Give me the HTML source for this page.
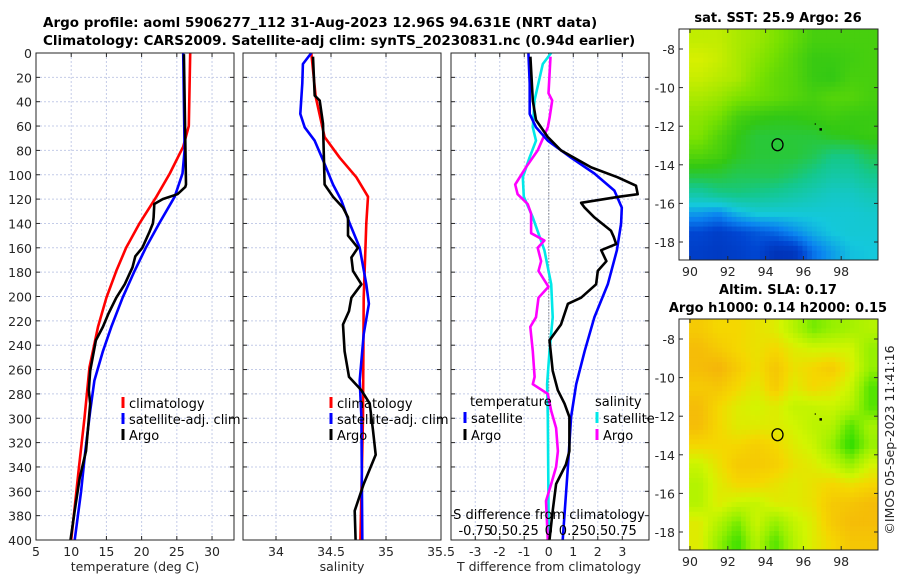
<!DOCTYPE html>
<html><head><meta charset="utf-8"><style>
body{margin:0;background:#fff;}
svg{display:block;font-family:"DejaVu Sans","Liberation Sans",sans-serif;}
.tk{font-size:12.5px;fill:#262626;}
.tt{font-size:13px;font-weight:bold;fill:#000;}
.tm{font-size:13.5px;font-weight:bold;fill:#000;}
.lg{font-size:13px;fill:#000;}
</style></head><body>
<svg id="fig" width="900" height="580" viewBox="0 0 900 580">
<text class="tm" x="43" y="27">Argo profile: aoml 5906277_112 31-Aug-2023 12.96S 94.631E (NRT data)</text>
<text class="tm" x="43" y="45">Climatology: CARS2009. Satellite-adj clim: synTS_20230831.nc (0.94d earlier)</text>
<g id="g1"></g>
<g id="g2"></g>
<g id="g3"></g>
<g id="m1"></g>
<g id="m2"></g>
<text class="tt" x="778" y="22" text-anchor="middle">sat. SST: 25.9 Argo: 26</text>
<text class="tt" x="778" y="294" text-anchor="middle">Altim. SLA: 0.17</text>
<text class="tt" x="778" y="312" text-anchor="middle">Argo h1000: 0.14 h2000: 0.15</text>
<text class="tk" transform="translate(894,440) rotate(-90)" text-anchor="middle">©IMOS 05-Sep-2023 11:41:16</text>
</svg>
<script>
// ---- temperature panel data ----
const tClimDepth=[0,60,77,99,118,140,160,179,201,225,258,299,340,400];
const tClimVal=[26.9,26.7,25.9,24,22.1,19.7,17.8,16.4,15,13.8,12.6,11.9,11.1,10];
const tSatDepth=[0,80,99,118,140,160,179,201,225,245,269,294,327,360,400];
const tSatVal=[25.9,26.1,25.8,24.7,22.5,20.6,19,17.3,15.7,14.5,13.3,12.7,12,11.4,10.5];
const tArgoDepth=[1,108,110,116,120,124,135,140,147,160,167,176,190,201,214,225,236,261,277,288,327,349,376,400];
const tArgoVal=[26,26.3,26.2,25.1,23,21.8,21.7,21.6,21.1,20.1,19.1,18.7,17.6,16.4,15.3,14.5,13.5,12.7,12.5,12.7,12.1,11.2,10.5,9.9];
// ---- salinity panel data ----
const sClimDepth=[0,36,69,86,102,118,140,201,299,400];
const sClimVal=[34.321,34.361,34.442,34.579,34.730,34.836,34.821,34.797,34.791,34.767];
const sSatDepth=[0,9,25,50,61,72,88,108,121,140,160,190,206,231,269,299,400];
const sSatVal=[34.321,34.245,34.239,34.221,34.261,34.352,34.427,34.518,34.594,34.670,34.761,34.821,34.845,34.797,34.761,34.776,34.785];
const sArgoDepth=[3,35,39,58,108,118,127,135,150,160,168,179,190,201,212,223,245,266,277,288,310,330,354,376,400];
const sArgoVal=[34.336,34.352,34.397,34.427,34.442,34.518,34.609,34.655,34.655,34.745,34.685,34.700,34.776,34.685,34.664,34.609,34.624,34.664,34.776,34.852,34.882,34.906,34.797,34.715,34.724];
// ---- difference panel data ----
const dTSatDepth=[0,25,50,61,72,86,99,113,127,140,162,190,217,245,272,299,340,400];
const dTSatVal=[-0.83,-0.78,-0.78,-0.52,-0.04,0.91,1.86,2.68,2.98,2.95,2.78,2.41,1.86,1.46,1.12,0.91,0.78,0.57];
const dTArgoDepth=[3,39,55,69,80,94,102,109,116,118,123,127,135,146,151,157,162,171,179,190,201,206,223,236,261,277,288,299,327,338,354,376,400];
const dTArgoVal=[-0.75,-0.65,-0.52,-0.04,0.5,1.73,2.8,3.56,3.63,2.88,1.32,1.46,1.86,2.54,2.65,2.75,2.14,2.35,2.0,1.93,1.32,0.78,0.5,0.03,0.16,0.37,0.64,0.84,0.84,0.7,0.3,0.16,0.03];
const dSSatDepth=[0,9,39,61,72,86,102,118,135,162,190,217,245,272,299,400];
const dSSatVal=[0.024,-0.061,-0.146,-0.163,-0.13,-0.197,-0.265,-0.255,-0.163,-0.045,0.025,0.04,0.007,-0.017,-0.01,0];
const dSArgoDepth=[3,33,39,53,61,80,94,108,116,124,132,148,154,160,171,179,192,201,217,225,245,266,272,280,294,308,327,340,354,368,400];
const dSArgoVal=[0.018,-0.003,0.035,0.008,-0.01,-0.113,-0.233,-0.343,-0.318,-0.215,-0.18,-0.18,-0.045,-0.113,-0.078,-0.105,-0.003,-0.105,-0.13,-0.188,-0.163,-0.145,-0.163,-0.01,0.025,0.075,0.093,0.075,0.025,-0.028,-0.01];
// ---- ticks ----
const depthTicks=[0,20,40,60,80,100,120,140,160,180,200,220,240,260,280,300,320,340,360,380,400];
const tTicks=[5,10,15,20,25,30];
const sTicks=[34,34.5,35,35.5];
const dTicks=[-3,-2,-1,0,1,2,3];
const dTickLabels=["-3","-2","-1","0","1","2","3"];
const dSTickLabels=["-0.75","0.5","0.25","0","0.25","0.5","0.75"];
// ---- map data (colour index per 1 degree cell, rows lat -7..-18, cols lon 90..99) ----
const sstGrid=[
[0.75,0.75,0.72,0.70,0.66,0.62,0.58,0.58,0.58,0.58],
[0.78,0.76,0.72,0.68,0.64,0.60,0.56,0.56,0.57,0.58],
[0.76,0.74,0.72,0.66,0.62,0.60,0.56,0.55,0.58,0.58],
[0.72,0.70,0.66,0.64,0.62,0.60,0.58,0.60,0.60,0.58],
[0.68,0.65,0.58,0.56,0.55,0.55,0.56,0.57,0.56,0.56],
[0.66,0.60,0.55,0.52,0.52,0.52,0.52,0.54,0.55,0.56],
[0.60,0.58,0.54,0.52,0.52,0.52,0.50,0.46,0.46,0.50],
[0.52,0.52,0.50,0.50,0.50,0.48,0.45,0.42,0.42,0.45],
[0.42,0.45,0.46,0.45,0.44,0.42,0.40,0.38,0.38,0.40],
[0.30,0.28,0.33,0.36,0.36,0.36,0.36,0.36,0.36,0.37],
[0.20,0.18,0.20,0.22,0.24,0.28,0.32,0.35,0.36,0.36],
[0.18,0.17,0.18,0.20,0.15,0.16,0.25,0.30,0.34,0.35]];
const slaGrid=[
[0.85,0.82,0.82,0.80,0.78,0.72,0.65,0.68,0.70,0.72],
[0.88,0.85,0.82,0.80,0.82,0.78,0.76,0.76,0.76,0.68],
[0.88,0.90,0.85,0.80,0.86,0.80,0.82,0.85,0.78,0.68],
[0.85,0.86,0.82,0.78,0.85,0.78,0.82,0.80,0.75,0.62],
[0.88,0.82,0.78,0.76,0.78,0.74,0.74,0.75,0.72,0.62],
[0.88,0.82,0.78,0.78,0.78,0.76,0.73,0.72,0.62,0.70],
[0.82,0.82,0.82,0.84,0.82,0.78,0.75,0.68,0.58,0.68],
[0.75,0.80,0.85,0.85,0.84,0.80,0.78,0.74,0.68,0.76],
[0.72,0.78,0.82,0.82,0.80,0.78,0.80,0.82,0.80,0.82],
[0.72,0.78,0.75,0.74,0.78,0.78,0.80,0.85,0.86,0.88],
[0.78,0.72,0.65,0.75,0.68,0.74,0.78,0.85,0.88,0.88],
[0.78,0.68,0.60,0.72,0.62,0.72,0.78,0.82,0.86,0.86]];
const mapLatTicks=[-8,-10,-12,-14,-16,-18];
const mapLonTicks=[90,92,94,96,98];
const argoLon=94.63, argoLat=-12.96;

const NS="http://www.w3.org/2000/svg";
function mk(parent,tag,attrs){const e=document.createElementNS(NS,tag);for(const k in attrs)e.setAttribute(k,attrs[k]);parent.appendChild(e);return e;}
const PY0=53,PH=487,PW=198;
const yD=d=>PY0+d*PH/400;

function panel(g,x0,xmin,xmax,ticks,labels,showDepth,nameP){
  const xf=v=>x0+(v-xmin)/(xmax-xmin)*PW;
  const gr=mk(g,'g',{});
  
  
  depthTicks.forEach(d=>{ if(d>0&&d<400) mk(gr,'line',{x1:x0,x2:x0+PW,y1:yD(d),y2:yD(d),stroke:'#c4cce8','stroke-width':1,'stroke-dasharray':'2,2'});});
  ticks.forEach((t,i)=>{const x=xf(t); if(x>x0+1&&x<x0+PW-1) mk(gr,'line',{x1:x,x2:x,y1:PY0,y2:PY0+PH,stroke:'#c4cce8','stroke-width':1,'stroke-dasharray':'2,2'});
    const tl=mk(g,'text',{x:x,y:PY0+PH+16,'text-anchor':'middle',class:'tk'});tl.textContent=labels[i];
    
    
    mk(g,'line',{x1:x,x2:x,y1:PY0+PH,y2:PY0+PH-4,stroke:'#262626'});
    mk(g,'line',{x1:x,x2:x,y1:PY0,y2:PY0+4,stroke:'#262626'});});
  depthTicks.forEach(d=>{mk(g,'line',{x1:x0,x2:x0+4,y1:yD(d),y2:yD(d),stroke:'#262626'});mk(g,'line',{x1:x0+PW,x2:x0+PW-4,y1:yD(d),y2:yD(d),stroke:'#262626'});
    if(showDepth){const t=mk(g,'text',{x:x0-4,y:yD(d)+5,'text-anchor':'end',class:'tk'});t.textContent=d;
    
    }});
  return xf;
}
function line(g,depths,vals,xf,color,name){
  const p=depths.map((d,i)=>xf(vals[i]).toFixed(1)+','+yD(d).toFixed(1)).join(' ');
  const e=mk(g,'polyline',{points:p,fill:'none',stroke:color,'stroke-width':2.6,'stroke-linejoin':'round'});
  
  
}
function frame(g,x0){mk(g,'rect',{x:x0,y:PY0,width:PW,height:PH,fill:'none',stroke:'#262626','stroke-width':1});}
function legItem(g,x,y,color,label,name){
  mk(g,'rect',{x:x-1.5,y:y-11,width:3,height:11,fill:color});
  const t=mk(g,'text',{x:x+6,y:y,class:'lg'});t.textContent=label;
  
  
}
function txt(g,x,y,s,cls,anchor,name){const t=mk(g,'text',{x:x,y:y,class:cls,'text-anchor':anchor||'start'});t.textContent=s;
  
  return t;}

// Panel 1
const g1=document.getElementById('g1');
const xT=panel(g1,36,5,33.12,tTicks,tTicks.map(String),true,'temperature');
line(g1,tClimDepth,tClimVal,xT,'#ff0000','temp-climatology-line');
line(g1,tSatDepth,tSatVal,xT,'#0000ff','temp-satellite-line');
line(g1,tArgoDepth,tArgoVal,xT,'#000000','temp-argo-line');
frame(g1,36);
legItem(g1,123,408,'#ff0000','climatology','legend-climatology');
legItem(g1,123,424,'#0000ff','satellite-adj. clim','legend-satellite');
legItem(g1,123,440,'#000000','Argo','legend-argo');
txt(g1,135,571,'temperature (deg C)','tk','middle','temperature-axis-title');

// Panel 2
const g2=document.getElementById('g2');
const xS=panel(g2,243,33.7,35.5,sTicks,['34','34.5','35','35.5'],false,'salinity');
line(g2,sClimDepth,sClimVal,xS,'#ff0000','sal-climatology-line');
line(g2,sSatDepth,sSatVal,xS,'#0000ff','sal-satellite-line');
line(g2,sArgoDepth,sArgoVal,xS,'#000000','sal-argo-line');
frame(g2,243);
legItem(g2,331,408,'#ff0000','climatology','legend-climatology-sal');
legItem(g2,331,424,'#0000ff','satellite-adj. clim','legend-satellite-sal');
legItem(g2,331,440,'#000000','Argo','legend-argo-sal');
txt(g2,342,571,'salinity','tk','middle','salinity-axis-title');

// Panel 3
const g3=document.getElementById('g3');
const xD=panel(g3,451,-3.99,4.09,dTicks,dTickLabels,false,'difference');
const xDS=v=>xD(v*4);
mk(g3,'line',{x1:xD(0),x2:xD(0),y1:yD(80),y2:yD(400),stroke:'#555','stroke-width':1,'stroke-dasharray':'1,2'});
line(g3,dSSatDepth,dSSatVal,xDS,'#00e8e8','sal-diff-satellite-line');
line(g3,dSArgoDepth,dSArgoVal,xDS,'#ff00ff','sal-diff-argo-line');
line(g3,dTSatDepth,dTSatVal,xD,'#0000ff','temp-diff-satellite-line');
line(g3,dTArgoDepth,dTArgoVal,xD,'#000000','temp-diff-argo-line');
frame(g3,451);
txt(g3,470,406,'temperature','lg','start','legend-temperature-heading');
txt(g3,595,406,'salinity','lg','start','legend-salinity-heading');
legItem(g3,465,423,'#0000ff','satellite','legend-temp-satellite');
legItem(g3,465,440,'#000000','Argo','legend-temp-argo');
legItem(g3,597,423,'#00e8e8','satellite','legend-sal-satellite');
legItem(g3,597,440,'#ff00ff','Argo','legend-sal-argo');
txt(g3,549,519,'S difference from climatology','lg','middle','s-axis-title');
dSTickLabels.forEach((l,i)=>{txt(g3,xD(dTicks[i]),535,l,'lg','middle','s-axis-tick-label');});
txt(g3,549,571,'T difference from climatology','tk','middle','t-axis-title');

// Maps
function lerp(a,b,t){return a+(b-a)*t;}
function pal(stops,v){
  if(v<=stops[0][0])return 'rgb('+stops[0][1].join(',')+')';
  for(let i=1;i<stops.length;i++){if(v<=stops[i][0]){const t=(v-stops[i-1][0])/(stops[i][0]-stops[i-1][0]);const a=stops[i-1][1],b=stops[i][1];return 'rgb('+[0,1,2].map(k=>Math.round(lerp(a[k],b[k],t))).join(',')+')';}}
  return 'rgb('+stops[stops.length-1][1].join(',')+')';
}
const sstStops=[[0.12,[0,40,170]],[0.2,[0,70,210]],[0.27,[10,130,240]],[0.35,[20,200,220]],[0.45,[20,200,140]],[0.55,[50,200,20]],[0.65,[120,225,0]],[0.78,[215,240,0]]];
const slaStops=[[0.58,[40,220,0]],[0.68,[150,240,0]],[0.76,[210,245,0]],[0.82,[245,215,0]],[0.9,[245,180,10]]];
function bil(grid,lon,lat){
  let c=Math.min(Math.max(lon-90.5,0),9),r=Math.min(Math.max(-7.5-lat,0),11);
  const c0=Math.min(Math.floor(c),8),r0=Math.min(Math.floor(r),10),tc=c-c0,tr=r-r0;
  return lerp(lerp(grid[r0][c0],grid[r0][c0+1],tc),lerp(grid[r0+1][c0],grid[r0+1][c0+1],tc),tr);
}
function drawMap(g,grid,stops,yoff,nm){
  const lx=lon=>690+(lon-90)*18.9, ly=lat=>yoff+49+(-8-lat)*19.3;
  const step=0.25;
  for(let lat=-6.95;lat>-18.9;lat-=step){for(let lon=89.95;lon<99.9;lon+=step){
    const la2=Math.max(lat-step,-18.9),lo2=Math.min(lon+step,99.9);
    const v=bil(grid,lon+step/2,lat-step/2);
    mk(g,'rect',{x:lx(lon).toFixed(2),y:ly(lat).toFixed(2),width:(lx(lo2)-lx(lon)+0.4).toFixed(2),height:(ly(la2)-ly(lat)+0.4).toFixed(2),fill:pal(stops,v)});
  }}
  const bx=679,by=yoff+29,bw=199,bh=231;
  mk(g,'rect',{x:bx,y:by,width:bw,height:bh,fill:'none',stroke:'#262626'});
  mapLatTicks.forEach(t=>{const y=ly(t);mk(g,'line',{x1:bx,x2:bx+4,y1:y,y2:y,stroke:'#262626'});mk(g,'line',{x1:bx+bw,x2:bx+bw-4,y1:y,y2:y,stroke:'#262626'});
    txt(g,bx-4,y+5,String(t),'tk','end',nm+'-lat-tick-label');});
  mapLonTicks.forEach(t=>{const x=lx(t);mk(g,'line',{x1:x,x2:x,y1:by+bh,y2:by+bh-4,stroke:'#262626'});mk(g,'line',{x1:x,x2:x,y1:by,y2:by+4,stroke:'#262626'});
    txt(g,x,by+bh+16,String(t),'tk','middle',nm+'-lon-tick-label');});
  const c=mk(g,'ellipse',{cx:lx(argoLon),cy:ly(argoLat),rx:5.5,ry:6,fill:'none',stroke:'#000','stroke-width':1.3});
  
  
  mk(g,'rect',{x:lx(96.85),y:ly(-12.1),width:2.5,height:2.5,fill:'#000'});
  mk(g,'rect',{x:lx(96.6),y:ly(-11.85),width:1,height:1.5,fill:'#000'});
}
drawMap(document.getElementById('m1'),sstGrid,sstStops,0,'sst-map');
drawMap(document.getElementById('m2'),slaGrid,slaStops,290,'sla-map');
</script>
</body></html>
